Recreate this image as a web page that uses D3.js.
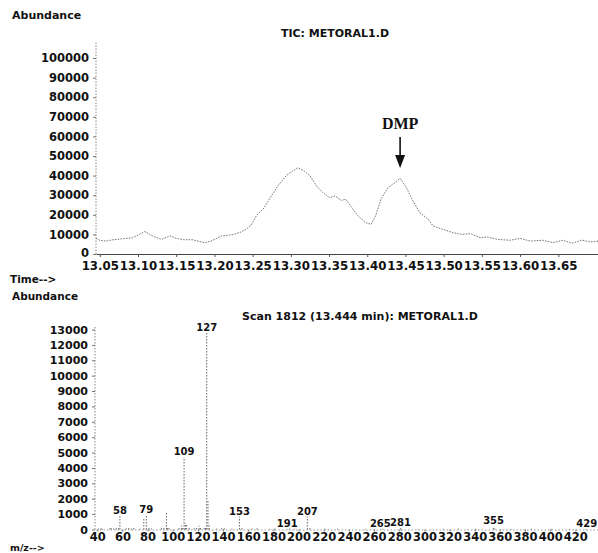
<!DOCTYPE html>
<html>
<head>
<meta charset="utf-8">
<script src="https://cdn.jsdelivr.net/npm/d3@7"></script>
<style>
  body { margin: 0; background: #fff; }
  text { font-family: "DejaVu Sans", sans-serif; font-weight: bold; fill: #111; }
</style>
</head>
<body>
<svg id="chart" width="598" height="553"></svg>
<script>
// ---- Total ion chromatogram (TIC: METORAL1.D) ----
const ticTime = [13.045, 13.050, 13.058, 13.066, 13.074, 13.084, 13.093, 13.101, 13.109, 13.116,
  13.122, 13.131, 13.142, 13.150, 13.159, 13.171, 13.179, 13.188, 13.197, 13.209,
  13.223, 13.233, 13.241, 13.248, 13.256, 13.264, 13.273, 13.283, 13.294, 13.302,
  13.309, 13.317, 13.325, 13.334, 13.342, 13.351, 13.358, 13.366, 13.372, 13.380,
  13.388, 13.398, 13.405, 13.411, 13.418, 13.427, 13.436, 13.443, 13.451, 13.460,
  13.469, 13.480, 13.486, 13.499, 13.512, 13.524, 13.535, 13.548, 13.557, 13.570,
  13.587, 13.600, 13.613, 13.630, 13.643, 13.656, 13.668, 13.681, 13.692, 13.702];
const ticAbundance = [8000, 7000, 6600, 7200, 7500, 8000, 8300, 9800, 11500, 9800,
  8700, 7500, 9200, 8000, 7300, 7300, 6500, 5800, 6800, 9200,
  9800, 10900, 12500, 14800, 20200, 23000, 28700, 34700, 40000, 42200,
  44000, 42500, 40000, 34500, 31300, 28700, 29600, 27400, 27900, 23600,
  19400, 16000, 15100, 19500, 28000, 33800, 36400, 38600, 34000, 27000,
  21000, 17700, 14300, 12600, 10900, 10000, 10400, 8300, 8700, 7500,
  7000, 8000, 6600, 7000, 5800, 7000, 5500, 7100, 6100, 6600];
const ticXTicks = [13.05, 13.10, 13.15, 13.20, 13.25, 13.30, 13.35, 13.40, 13.45, 13.50, 13.55, 13.60, 13.65];
const ticYTicks = [0, 10000, 20000, 30000, 40000, 50000, 60000, 70000, 80000, 90000, 100000];
const dmpTime = 13.443;

// ---- Mass spectrum, scan 1812 (13.444 min) ----
const specMz = [41, 43, 44, 50, 51, 53, 55, 57, 58, 63, 65, 67, 69, 74, 77, 79, 81, 83, 91, 93,
  95, 96, 97, 105, 107, 108, 109, 110, 111, 113, 117, 119, 121, 122, 125, 126, 127, 128, 129, 135,
  139, 141, 147, 153, 155, 163, 167, 177, 181, 191, 193, 197, 207, 209, 221, 231, 253, 265, 267, 281,
  282, 295, 315, 327, 341, 355, 356, 369, 385, 401, 415, 429];
const specAbundance = [60, 90, 40, 70, 110, 60, 120, 90, 880, 80, 140, 60, 150, 60, 700, 930, 180, 70, 120, 160,
  1160, 140, 90, 110, 260, 180, 4700, 420, 300, 120, 80, 150, 240, 180, 160, 120, 12800, 1900, 260, 60,
  90, 70, 60, 840, 90, 60, 80, 50, 70, 40, 60, 50, 840, 120, 60, 50, 40, 40, 50, 80,
  40, 40, 50, 60, 50, 200, 60, 40, 50, 40, 40, 40];
const labeledMz = [58, 79, 109, 127, 153, 191, 207, 265, 281, 355, 429];
const specXTicks = [40, 60, 80, 100, 120, 140, 160, 180, 200, 220, 240, 260, 280, 300, 320, 340, 360, 380, 400, 420];
const specYTicks = [0, 1000, 2000, 3000, 4000, 5000, 6000, 7000, 8000, 9000, 10000, 11000, 12000, 13000];

const svg = d3.select("#chart");

// ======== Upper panel: chromatogram ========
const xT = d3.scaleLinear().domain([13.045, 13.702]).range([96, 598]);
const yT = d3.scaleLinear().domain([0, 100000]).range([254, 58]);

svg.append("text").attr("x", 12).attr("y", 19).style("font-size", "11px").text("Abundance");
svg.append("text").attr("x", 335).attr("y", 37).attr("text-anchor", "middle")
  .style("font-size", "11px").text("TIC: METORAL1.D");

const yAxisT = svg.append("g").attr("transform", "translate(96,0)")
  .call(d3.axisLeft(yT).tickValues(ticYTicks).tickFormat(d3.format("d")).tickSize(3).tickPadding(4).tickSizeOuter(0));
yAxisT.select(".domain").attr("d", `M0,${yT(0)}V${yT(108500)}`)
  .attr("stroke", "#888").attr("stroke-dasharray", "1.5,1.5");
yAxisT.selectAll(".tick line").attr("stroke", "#777");
yAxisT.selectAll(".tick text").style("font-size", "11.5px").attr("fill", "#111");
// keep the zero label clear of the time labels below it
yAxisT.selectAll(".tick text").filter(d => d === 0).attr("y", -1.5);

const xAxisT = svg.append("g").attr("transform", `translate(0,${yT(0)})`)
  .call(d3.axisBottom(xT).tickValues(ticXTicks).tickFormat(d3.format(".2f")).tickSize(3).tickPadding(5).tickSizeOuter(0));
xAxisT.select(".domain").attr("stroke", "#444");
xAxisT.selectAll(".tick line").attr("stroke", "#555");
xAxisT.selectAll(".tick text").style("font-size", "11.8px").attr("fill", "#111");

svg.append("text").attr("x", 10).attr("y", 283).style("font-size", "10.5px").text("Time-->");

const ticLine = d3.line().x((d, i) => xT(ticTime[i])).y(d => yT(d));
svg.append("path").datum(ticAbundance)
  .attr("d", ticLine).attr("fill", "none")
  .attr("stroke", "#555").attr("stroke-width", 0.8).attr("stroke-dasharray", "1.6,1.2");

// DMP marker
const ax = xT(dmpTime);
svg.append("text").attr("x", ax).attr("y", 129).attr("text-anchor", "middle")
  .style("font-family", "'Liberation Serif', 'DejaVu Serif', serif").style("font-size", "16px")
  .text("DMP");
svg.append("line").attr("x1", ax).attr("x2", ax).attr("y1", 137).attr("y2", 157)
  .attr("stroke", "#111").attr("stroke-width", 1.6);
svg.append("path").attr("d", `M${ax - 5},155L${ax + 5},155L${ax},168Z`).attr("fill", "#111");

// ======== Lower panel: mass spectrum ========
const xS = d3.scaleLinear().domain([39, 438]).range([96, 598]);
const yS = d3.scaleLinear().domain([0, 13000]).range([529.5, 329.5]);

svg.append("text").attr("x", 12).attr("y", 300).style("font-size", "10.5px").text("Abundance");
svg.append("text").attr("x", 360).attr("y", 320).attr("text-anchor", "middle")
  .style("font-size", "11px").text("Scan 1812 (13.444 min): METORAL1.D");

const yAxisS = svg.append("g").attr("transform", "translate(95,0)")
  .call(d3.axisLeft(yS).tickValues(specYTicks).tickFormat(d3.format("d")).tickSize(3).tickPadding(4).tickSizeOuter(0));
yAxisS.select(".domain").attr("d", `M0,${yS(0)}V${yS(13200)}`)
  .attr("stroke", "#888").attr("stroke-dasharray", "1.5,1.5");
yAxisS.selectAll(".tick line").attr("stroke", "#777");
yAxisS.selectAll(".tick text").style("font-size", "11px").attr("fill", "#111");

const xAxisS = svg.append("g").attr("transform", `translate(0,${yS(0)})`)
  .call(d3.axisBottom(xS).tickValues(specXTicks).tickFormat(d3.format("d")).tickSize(2).tickPadding(1).tickSizeOuter(0));
xAxisS.select(".domain").attr("stroke", "#999").attr("stroke-dasharray", "1.5,2");
xAxisS.selectAll(".tick line").attr("stroke", "#777");
xAxisS.selectAll(".tick text").style("font-size", "11.5px").attr("fill", "#111");

svg.append("text").attr("x", 10).attr("y", 551).style("font-size", "9.5px").text("m/z-->");

// peak sticks
svg.append("g").selectAll("line").data(specMz).join("line")
  .attr("x1", d => xS(d)).attr("x2", d => xS(d))
  .attr("y1", yS(0)).attr("y2", (d, i) => yS(specAbundance[i]))
  .attr("stroke", "#555").attr("stroke-width", 0.9).attr("stroke-dasharray", "1.5,1.5");

// m/z labels above the labelled peaks
svg.append("g").selectAll("text").data(labeledMz).join("text")
  .attr("x", d => xS(d))
  .attr("y", d => yS(specAbundance[specMz.indexOf(d)]) - 2)
  .attr("text-anchor", "middle").style("font-size", "10px")
  .text(d => d);
</script>
</body>
</html>
